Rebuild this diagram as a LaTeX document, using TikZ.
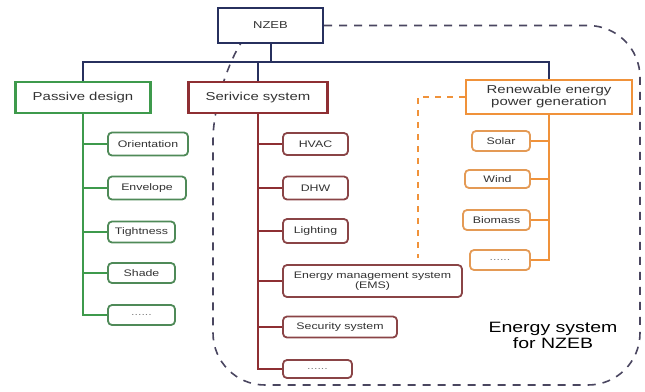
\documentclass[tikz,border=0pt]{standalone}
\usepackage{fontspec}
\setmainfont{Liberation Sans}[FakeStretch=1.3]
\usetikzlibrary{backgrounds}
\definecolor{navy}{HTML}{27305E}
\definecolor{pgreen}{HTML}{3E9A4C}
\definecolor{cgreen}{HTML}{4F8A58}
\definecolor{sred}{HTML}{8E2F33}
\definecolor{cred}{HTML}{8A4446}
\definecolor{rorange}{HTML}{F0923A}
\definecolor{corange}{HTML}{E49A55}
\definecolor{dashgray}{HTML}{4A4660}
\definecolor{txt}{HTML}{333333}
\tikzset{
  mainbox/.style={draw, line width=2.2pt, fill=white, text=txt, font=\fontsize{11.5}{12.5}\selectfont, inner sep=1pt, align=center},
  child/.style={draw, line width=1.8pt, rounded corners=4pt, fill=white, text=txt, font=\fontsize{9.5}{10.5}\selectfont, inner sep=1pt, align=center},
  gtree/.style={pgreen, line width=2pt},
  rtree/.style={sred, line width=2pt},
  otree/.style={rorange, line width=2pt},
  ntree/.style={navy, line width=2pt},
  outline/.style={dashgray, line width=1.6pt, dash pattern=on 8pt off 7pt},
  odash/.style={rorange, line width=1.6pt, dash pattern=on 6pt off 6pt}
}
\begin{document}
\begin{tikzpicture}[x=1pt,y=-1pt]
\useasboundingbox (0,0) rectangle (645,391);
% main boxes
\node[mainbox, draw=navy, minimum width=105pt, minimum height=35pt, font=\fontsize{10}{11}\selectfont] (nzeb) at (270.5,25.5) {NZEB};
\node[mainbox, draw=pgreen, minimum width=135pt, minimum height=31pt] (pd) at (83,97.5) {Passive design};
\node[mainbox, draw=sred, minimum width=139pt, minimum height=31pt] (ss) at (258,97.5) {Serivice system};
\node[mainbox, draw=rorange, minimum width=166pt, minimum height=34pt, font=\fontsize{11.5}{12}\selectfont] (re) at (549,97) {Renewable energy\\power generation};
% passive children
\node[child, draw=cgreen, minimum width=80pt, minimum height=23pt] (o1) at (148,144) {Orientation};
\node[child, draw=cgreen, minimum width=78pt, minimum height=23pt] (o2) at (147,188) {Envelope};
\node[child, draw=cgreen, minimum width=67pt, minimum height=21pt] (o3) at (141.5,232) {Tightness};
\node[child, draw=cgreen, minimum width=67pt, minimum height=20pt] (o4) at (141.5,273) {Shade};
\node[child, draw=cgreen, minimum width=67pt, minimum height=20pt, text=gray] (o5) at (141.5,315) {......};
% service children
\node[child, draw=cred, minimum width=65pt, minimum height=22pt] (s1) at (315.5,144) {HVAC};
\node[child, draw=cred, minimum width=65pt, minimum height=23pt] (s2) at (315.5,188) {DHW};
\node[child, draw=cred, minimum width=65pt, minimum height=24pt] (s3) at (315.5,231) {Lighting};
\node[child, draw=cred, minimum width=179pt, minimum height=32pt] (s4) at (372.5,281) {Energy management system\\(EMS)};
\node[child, draw=cred, minimum width=114pt, minimum height=21pt] (s5) at (340,327) {Security system};
\node[child, draw=cred, minimum width=69pt, minimum height=18pt, text=gray] (s6) at (317.5,369) {......};
% renewable children
\node[child, draw=corange, minimum width=58pt, minimum height=20pt] (r1) at (501,141) {Solar};
\node[child, draw=corange, minimum width=65pt, minimum height=18pt] (r2) at (497.5,179) {Wind};
\node[child, draw=corange, minimum width=67pt, minimum height=20pt] (r3) at (496.5,220) {Biomass};
\node[child, draw=corange, minimum width=60pt, minimum height=20pt, text=gray] (r4) at (500,260) {......};
% label
\node[text=black, font=\fontsize{15}{16}\selectfont, align=center] (lab) at (553,335) {Energy system\\for NZEB};
\coordinate (bus) at (0,62);
\coordinate (oe) at (418,258);
\begin{pgfonlayer}{background}
\draw[outline, rounded corners=52pt] (nzeb.east) -- (640,25.5) -- (640,385) -- (213,385) -- (213,88) -- (241,43);
\end{pgfonlayer}
% navy bus
\draw[ntree] (pd.north) |- (bus -| re.north) -- (re.north);
\draw[ntree] (nzeb.south) -- (nzeb.south |- bus);
\draw[ntree] (ss.north) -- (ss.north |- bus);
% green tree
\draw[gtree] (pd.south) |- (o5.west);
\foreach \c in {o1,o2,o3,o4} \draw[gtree] (pd.south |- \c.west) -- (\c.west);
% red tree
\draw[rtree] (ss.south) |- (s6.west);
\foreach \c in {s1,s2,s3,s4,s5} \draw[rtree] (ss.south |- \c.west) -- (\c.west);
% orange tree
\draw[otree] (re.south) |- (r4.east);
\foreach \c in {r1,r2,r3} \draw[otree] (re.south |- \c.east) -- (\c.east);
% orange dashed
\draw[odash] (re.west) -| (oe);
\end{tikzpicture}
\end{document}
